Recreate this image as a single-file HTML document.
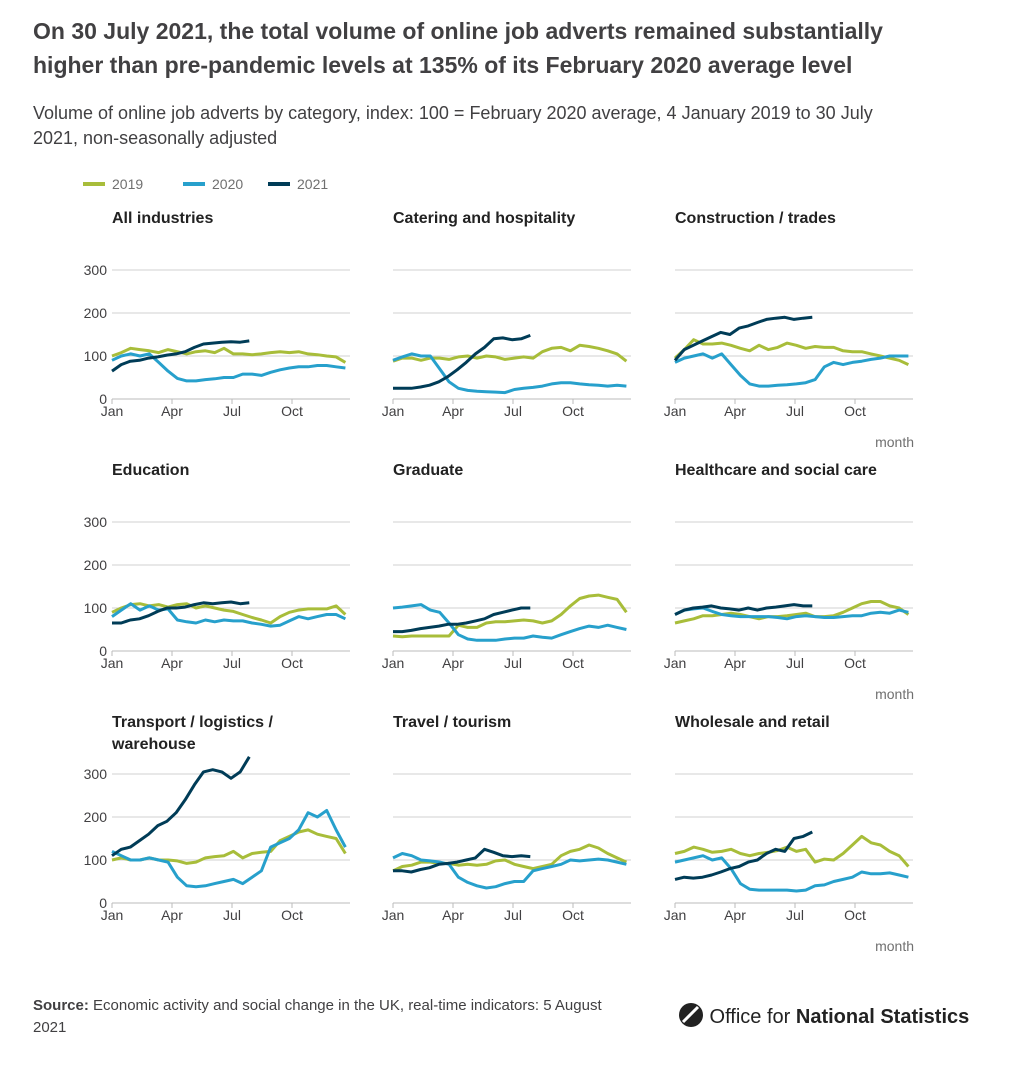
<!DOCTYPE html>
<html><head><meta charset="utf-8">
<style>
body{margin:0;background:#fff;font-family:"Liberation Sans",sans-serif;color:#222;}
#wrap{position:relative;width:1016px;height:1065px;overflow:hidden;}
h1{position:absolute;left:33px;top:14px;margin:0;font-size:23px;line-height:34px;font-weight:bold;color:#414042;width:915px;}
.sub{position:absolute;left:33px;top:101px;font-size:18px;line-height:25px;color:#414042;width:880px;}
svg text{font-family:"Liberation Sans",sans-serif;}
.src{position:absolute;left:33px;top:995px;font-size:15px;line-height:22px;color:#414042;width:600px;}
.logo{position:absolute;left:678px;top:1002px;font-size:20px;color:#222;white-space:nowrap;}
</style></head><body>
<div id="wrap">
<h1>On 30 July 2021, the total volume of online job adverts remained substantially higher than pre-pandemic levels at 135% of its February 2020 average level</h1>
<div class="sub">Volume of online job adverts by category, index: 100 = February 2020 average, 4 January 2019 to 30 July 2021, non-seasonally adjusted</div>
<svg id="chart" width="1016" height="1065" style="position:absolute;left:0;top:0"></svg>
<div class="src"><b>Source:</b> Economic activity and social change in the UK, real-time indicators: 5 August 2021</div>
<div class="logo"><svg width="26" height="26" style="vertical-align:-5px" viewBox="0 0 26 26"><circle cx="13" cy="13" r="12" fill="#222"/><path d="M5 20 L20 5" stroke="#fff" stroke-width="3"/></svg> Office for <b>National Statistics</b></div>
</div>
<script>
const panels = ["All industries","Catering and hospitality","Construction / trades","Education","Graduate","Healthcare and social care","Transport / logistics / warehouse","Travel / tourism","Wholesale and retail"];
const yTicks = [0,100,200,300];
const monthLabels = ["Jan","Apr","Jul","Oct"];
const years = ["2019","2020","2021"];
const s2019 = [
[100,108,118,115,112,108,115,110,105,110,112,108,118,105,105,103,105,108,110,108,110,105,103,100,98,85],
[88,95,95,90,95,95,92,98,100,95,100,98,92,95,98,95,110,118,120,112,125,122,118,112,105,88],
[95,115,138,128,128,130,125,118,112,125,115,120,130,125,118,122,120,120,112,110,110,105,100,95,90,80],
[90,100,108,110,105,108,102,108,110,100,105,100,95,92,85,78,72,65,80,90,95,98,98,98,105,85],
[35,33,35,35,35,35,35,60,55,55,65,68,68,70,72,70,65,70,85,105,122,128,130,125,120,90],
[65,70,75,82,82,85,88,85,80,75,80,80,82,85,88,80,80,82,90,100,110,115,115,105,100,85],
[100,105,100,100,105,100,100,98,92,95,105,108,110,120,105,115,118,120,145,155,165,170,160,155,150,115],
[75,85,88,95,95,92,92,88,90,88,90,98,100,90,85,80,85,90,110,120,125,135,128,115,105,95],
[115,120,130,125,118,120,125,115,110,115,118,122,130,120,125,95,102,100,115,135,155,140,135,120,110,85]];
const s2020 = [
[90,100,105,100,105,85,65,48,42,42,45,47,50,50,58,58,55,62,68,72,75,75,78,78,75,72],
[90,98,105,100,100,70,40,25,20,18,17,16,15,22,25,27,30,35,38,38,35,33,32,30,32,30],
[85,95,100,105,95,105,80,55,35,30,30,32,33,35,38,45,75,85,80,85,88,92,95,100,100,100],
[80,95,110,95,105,95,98,72,68,65,72,68,72,70,70,65,62,58,60,70,80,75,80,85,85,75],
[100,102,105,108,95,90,65,38,28,25,25,25,28,30,30,35,32,30,38,45,52,58,55,60,55,50],
[85,95,98,100,92,85,82,80,80,80,80,78,75,80,82,80,78,78,80,82,82,88,90,88,95,90],
[120,110,100,100,105,100,95,60,40,38,40,45,50,55,45,60,75,130,140,150,170,210,200,215,170,130],
[105,115,110,100,98,95,90,60,48,40,35,38,45,50,50,75,80,85,90,100,98,100,102,100,95,90],
[95,100,105,110,100,105,80,45,32,30,30,30,30,28,30,40,42,50,55,60,72,68,68,70,65,60]];
const s2021 = [
[65,80,88,90,95,98,102,105,110,120,128,130,132,133,132,135],
[25,25,25,28,32,40,52,68,85,105,120,140,142,138,140,148],
[90,115,125,135,145,155,150,165,170,178,185,188,190,185,188,190],
[65,65,72,75,82,92,100,100,102,108,112,110,112,114,110,112],
[45,45,48,52,55,58,62,62,65,70,75,85,90,95,100,100],
[85,95,100,102,105,100,98,95,100,95,100,102,105,108,105,105],
[110,125,130,145,160,180,190,210,240,275,305,310,305,290,305,340],
[75,75,72,78,82,90,92,95,100,105,125,118,110,108,110,108],
[55,60,58,60,65,72,80,85,95,100,115,125,120,150,155,165]];
const colors = ["#a8bd3a","#27a0cc","#003c57"];
const svg = document.getElementById('chart');
const NS = "http://www.w3.org/2000/svg";
function mk(tag, attrs, parent){const e=document.createElementNS(NS,tag);for(const k in attrs)e.setAttribute(k,attrs[k]);(parent||svg).appendChild(e);return e;}
const colX=[112,393,675], rowZero=[399,651,903], W=238;
years.forEach((y,i)=>{
  const lx=[83,183,268][i];
  const g=mk('g',{});
  
  
  mk('line',{x1:lx,x2:lx+22,y1:184,y2:184,stroke:colors[i],'stroke-width':4},g);
  const t=mk('text',{x:lx+29,y:189,'font-size':14,fill:'#707070'},g);t.textContent=y;
});
panels.forEach((name,p)=>{
  const c=p%3,r=Math.floor(p/3);
  const x0=colX[c], y0=rowZero[r];
  const xs=w=>x0+w/52*W;
  const ys=v=>y0-v*0.43;
  const g=mk('g',{});
  
  
  const lines=name==="Transport / logistics / warehouse"?["Transport / logistics /","warehouse"]:[name];
  lines.forEach((l,i)=>{const t=mk('text',{x:x0,y:y0-176+i*22,'font-size':16,'font-weight':'bold',fill:'#222'},g);t.textContent=l;});
  yTicks.forEach(v=>{
    mk('line',{x1:x0,x2:x0+W,y1:ys(v),y2:ys(v),stroke:v===0?'#bbb':'#d0d0d0','stroke-width':1},g);
    if(c===0){const t=mk('text',{x:x0-5,y:ys(v)+5,'font-size':14,'text-anchor':'end',fill:'#414042'},g);t.textContent=v;}
  });
  monthLabels.forEach((m,i)=>{
    const xx=x0+i*60;
    mk('line',{x1:xx,x2:xx,y1:y0,y2:y0+5,stroke:'#bbb'},g);
    const t=mk('text',{x:xx,y:y0+17,'font-size':14,'text-anchor':'middle',fill:'#414042'},g);t.textContent=m;
  });
  if(c===2){const t=mk('text',{x:914,y:y0+48,'font-size':14,'text-anchor':'end',fill:'#707070'},g);t.textContent='month';}
  [s2019[p],s2020[p],s2021[p]].forEach((arr,si)=>{
    const step=si===2?30/(arr.length-1):51/(arr.length-1);
    const d=arr.map((v,i)=>(i?'L':'M')+xs(i*step).toFixed(1)+','+ys(v).toFixed(1)).join('');
    const pth=mk('path',{d:d,fill:'none',stroke:colors[si],'stroke-width':3,'stroke-linejoin':'round'},g);
    
    
  });
});
</script>
</body></html>
